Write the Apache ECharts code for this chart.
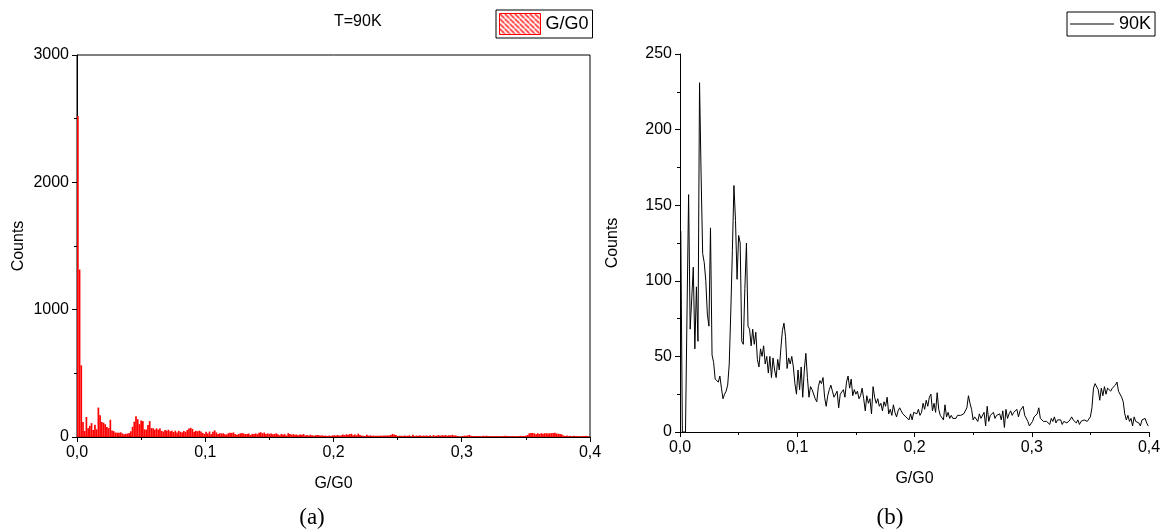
<!DOCTYPE html>
<html>
<head>
<meta charset="utf-8">
<script src="https://cdn.jsdelivr.net/npm/echarts@6/dist/echarts.min.js"></script>
<style>
  html, body { margin: 0; padding: 0; background: #fff; }
  #chart { width: 1165px; height: 529px; }
</style>
</head>
<body>
<div id="chart"></div>
<script>
// G/G0 histogram, 300 bins from 0 to 0.4
const binWidth = 0.4 / 300;

// counts per bin (b)
const counts = [
  133, 0, 0, 0, 80, 157, 68, 88, 109, 55,
  96, 60, 231, 170, 118, 112, 100, 78, 70, 135,
  51, 46, 35, 34, 33, 37, 29, 22, 25, 27,
  31, 45, 80, 120, 163, 140, 101, 130, 125, 60,
  58, 95, 125, 70, 68, 57, 68, 58, 66, 48,
  43, 55, 50, 57, 45, 50, 39, 50, 36, 49,
  41, 36, 48, 41, 55, 67, 72, 63, 42, 49,
  45, 50, 43, 32, 25, 41, 28, 43, 23, 41,
  52, 36, 23, 30, 28, 29, 22, 20, 30, 34,
  32, 36, 23, 17, 24, 28, 31, 27, 23, 24,
  27, 16, 25, 24, 28, 23, 33, 37, 29, 35,
  24, 28, 25, 27, 22, 24, 29, 22, 14, 24,
  19, 22, 12, 30, 23, 19, 22, 17, 19, 14,
  20, 17, 23, 12, 15, 11, 18, 13, 10, 14,
  16, 14, 12, 13, 10, 11, 8, 12, 8, 13,
  14, 12, 15, 11, 13, 19, 15, 21, 17, 23,
  25, 14, 19, 13, 26, 15, 11, 10, 8, 18,
  10, 13, 9, 11, 9, 10, 9, 11, 10, 11,
  11, 12, 11, 16, 24, 19, 15, 8, 10, 9,
  7, 12, 9, 10, 13, 4, 17, 7, 11, 10,
  13, 9, 11, 10, 12, 8, 14, 3, 15, 9,
  12, 14, 11, 13, 12, 15, 10, 14, 13, 17,
  11, 12, 7, 4, 3, 7, 10, 9, 12, 16,
  9, 8, 7, 8, 7, 6, 5, 9, 7, 10,
  6, 8, 7, 8, 5, 7, 8, 6, 5, 8,
  10, 8, 7, 6, 8, 5, 7, 6, 8, 9,
  7, 8, 10, 16, 29, 32, 31, 28, 21, 29,
  24, 30, 25, 29, 30, 27, 29, 30, 31, 33,
  27, 26, 23, 20, 12, 8, 11, 7, 9, 4,
  10, 7, 8, 6, 4, 8, 7, 9, 6, 4
];

// first bins of histogram (a), where it differs from (b)
const histHead = [2520, 1315, 563, 118, 47];

const binCenters = counts.map((_, i) => +((i + 0.5) * binWidth).toFixed(5));
const histCounts = histHead.concat(counts.slice(histHead.length));

const FONT = 'Liberation Sans, Arial, sans-serif';

// red hatch for the legend swatch
const hatch = document.createElement('canvas');
hatch.width = 5;
hatch.height = 5;
const hctx = hatch.getContext('2d');
hctx.fillStyle = '#fff';
hctx.fillRect(0, 0, 5, 5);
hctx.strokeStyle = '#ff0000';
hctx.lineWidth = 1.3;
hctx.beginPath();
hctx.moveTo(-1, -1);
hctx.lineTo(6, 6);
hctx.stroke();

function xAxisOf(gridIndex) {
  return {
    gridIndex: gridIndex,
    type: 'value',
    min: 0,
    max: 0.4,
    interval: 0.1,
    name: 'G/G0',
    nameLocation: 'middle',
    nameGap: 39,
    nameTextStyle: { fontFamily: FONT, fontSize: 16, color: '#000' },
    axisLine: { show: true, onZero: false, lineStyle: { color: '#000', width: 1 } },
    axisTick: { show: true, inside: false, length: 5, lineStyle: { color: '#000' } },
    minorTick: { show: true, splitNumber: 2, length: 3, lineStyle: { color: '#000' } },
    splitLine: { show: false },
    axisLabel: {
      fontFamily: FONT, fontSize: 16, color: '#000', margin: 8,
      formatter: (v) => v.toFixed(1).replace('.', ','),
    },
  };
}

function yAxisOf(gridIndex, max, interval, gap) {
  return {
    gridIndex: gridIndex,
    type: 'value',
    min: 0,
    max: max,
    interval: interval,
    name: 'Counts',
    nameLocation: 'middle',
    nameGap: gap,
    nameTextStyle: { fontFamily: FONT, fontSize: 16, color: '#000' },
    axisLine: { show: true, onZero: false, lineStyle: { color: '#000', width: 1 } },
    axisTick: { show: true, inside: false, length: 5, lineStyle: { color: '#000' } },
    minorTick: { show: true, splitNumber: 2, length: 3, lineStyle: { color: '#000' } },
    splitLine: { show: false },
    axisLabel: {
      fontFamily: FONT, fontSize: 16, color: '#000', margin: 8,
      formatter: (v) => String(v),
    },
  };
}

const chart = echarts.init(document.getElementById('chart'));
chart.setOption({
  animation: false,
  backgroundColor: '#fff',
  title: [
    { text: 'T=90K', left: 329, top: 9, textStyle: { fontFamily: FONT, fontSize: 16, fontWeight: 'normal', color: '#000' } },
    { text: '(a)', left: 307, top: 501, textAlign: 'center', textStyle: { fontFamily: 'Liberation Serif, serif', fontSize: 23, fontWeight: 'normal', color: '#000' } },
    { text: '(b)', left: 885, top: 501, textAlign: 'center', textStyle: { fontFamily: 'Liberation Serif, serif', fontSize: 23, fontWeight: 'normal', color: '#000' } },
  ],
  legend: [
    {
      left: 496, top: 10,
      orient: 'vertical',
      padding: [3, 4, 3, 3],
      borderColor: '#000', borderWidth: 1, borderRadius: 0,
      itemWidth: 41, itemHeight: 21,
      textStyle: { fontFamily: FONT, fontSize: 18, color: '#000' },
      data: [{
        name: 'G/G0',
        icon: 'rect',
        itemStyle: { color: { image: hatch, repeat: 'repeat' }, borderColor: '#ff0000', borderWidth: 1 },
      }],
    },
    {
      left: 1067, top: 12,
      orient: 'vertical',
      padding: [3, 4, 3, 3],
      borderColor: '#000', borderWidth: 1, borderRadius: 0,
      itemWidth: 44, itemHeight: 21,
      symbolKeepAspect: true,
      textStyle: { fontFamily: FONT, fontSize: 18, color: '#000' },
      data: [{
        name: '90K',
        icon: 'path://M0,0 L44,0 L44,1 L0,1 Z',
        itemStyle: { color: '#000', borderWidth: 0 },
      }],
    },
  ],
  grid: [
    { left: 77, top: 55, width: 513, height: 382, show: true, borderColor: '#000', borderWidth: 1, backgroundColor: 'transparent' },
    { left: 680, top: 54, width: 469, height: 378 },
  ],
  xAxis: [xAxisOf(0), xAxisOf(1)],
  yAxis: [yAxisOf(0, 3000, 1000, 50), yAxisOf(1, 250, 50, 59)],
  series: [
    {
      name: 'G/G0',
      type: 'bar',
      xAxisIndex: 0,
      yAxisIndex: 0,
      barWidth: '100%',
      itemStyle: { color: '#ff0000' },
      data: binCenters.map((x, i) => [x, histCounts[i]]),
    },
    {
      name: '90K',
      type: 'line',
      xAxisIndex: 1,
      yAxisIndex: 1,
      symbol: 'none',
      showSymbol: false,
      lineStyle: { color: '#000', width: 1 },
      itemStyle: { color: '#000' },
      data: binCenters.map((x, i) => [x, counts[i]]),
    },
  ],
});
</script>
</body>
</html>
